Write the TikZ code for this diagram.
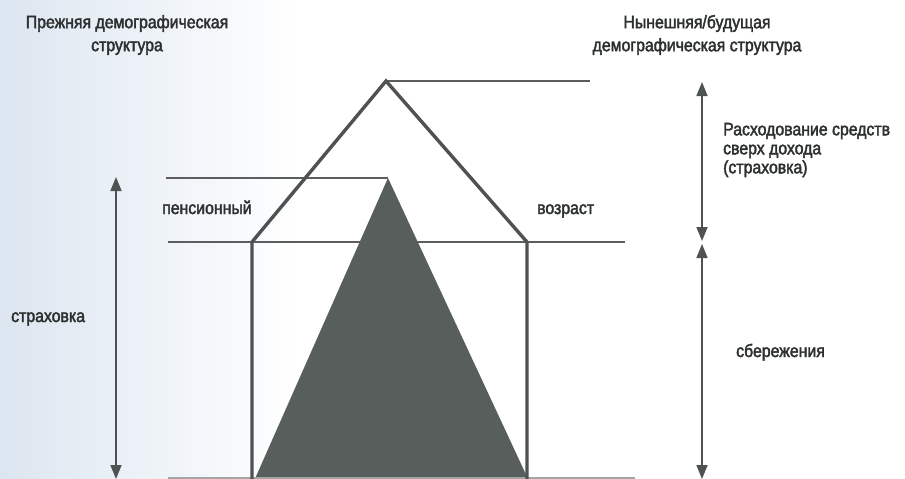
\documentclass[tikz,border=0pt]{standalone}
\usepackage{fontspec}
\setmainfont[FakeStretch=0.88,FakeBold=2.2]{Liberation Sans}
\usetikzlibrary{arrows.meta}
\definecolor{linec}{RGB}{78,82,82}
\definecolor{fillc}{RGB}{88,94,92}
\definecolor{thinc}{RGB}{90,94,94}
\definecolor{txtc}{RGB}{45,48,48}
\definecolor{bgl}{RGB}{220,230,240}
\tikzset{
  houseline/.style={draw=linec,line width=3.4pt,line join=miter},
  levelline/.style={draw=thinc,line width=2.2pt},
  baseline/.style={draw=thinc!55,line width=2pt},
  dim/.style={draw=linec,line width=1.6pt,{Triangle[length=14pt,width=11pt]}-{Triangle[length=14pt,width=11pt]}},
  lbl/.style={font=\fontsize{18}{19}\selectfont,text=txtc,inner sep=0pt},
  ttl/.style={font=\fontsize{18}{23}\selectfont,text=txtc,inner sep=0pt,align=center},
}
\begin{document}
\begin{tikzpicture}[x=1pt,y=-1pt]
\useasboundingbox (0,0) rectangle (905,479);
\fill[white] (0,0) rectangle (905,479);
\shade[left color=bgl,right color=white] (0,0) rectangle (300,479);
% key points
\coordinate (apex) at (386,81);
\coordinate (rl) at (252,242);
\coordinate (rr) at (527,242);
\coordinate (bl) at (252,481);
\coordinate (br) at (527,481);
\coordinate (tapex) at (388,178);
\coordinate (tl) at (254,481);
\coordinate (tr) at (529,481);
% dark triangle
\fill[fillc] (tl) -- (tapex) -- (tr) -- cycle;
% level lines
\coordinate (topend) at (590,81);
\coordinate (midl) at (166,178);
\coordinate (retl) at (168,242);
\coordinate (retr) at (625,242);
\coordinate (basel) at (168,478);
\coordinate (baser) at (635,478);
\draw[levelline] (apex) -- (topend);
\draw[levelline] (midl) -- (tapex);
\draw[levelline] (retl) -- (retr);
\draw[baseline] (basel) -- (baser);
% house
\draw[houseline] (bl) -- (rl) -- (apex) -- (rr) -- (br);
% arrows
\coordinate (la1) at (116,177);
\coordinate (la2) at (116,479);
\coordinate (ra1) at (702,82);
\coordinate (ra2) at (702,241);
\coordinate (ra3) at (702,244);
\coordinate (ra4) at (702,479);
\draw[dim] (la1) -- (la2);
\draw[dim] (ra1) -- (ra2);
\draw[dim] (ra3) -- (ra4);
% labels
\node[ttl] (old) at (127,35) {Прежняя демографическая\\структура};
\node[ttl] (new) at (697,35) {Нынешняя/будущая\\демографическая структура};
\node[lbl,align=left,anchor=west] (spend) at (723,150) {Расходование средств\\сверх дохода\\(страховка)};
\node[lbl,anchor=base west] (pens) at (162,214) {пенсионный};
\node[lbl,anchor=base west] (vozr) at (537,214) {возраст};
\node[lbl,anchor=base west] (strah) at (11,322) {страховка};
\node[lbl,anchor=base west] (sber) at (736,357) {сбережения};
\end{tikzpicture}
\end{document}
